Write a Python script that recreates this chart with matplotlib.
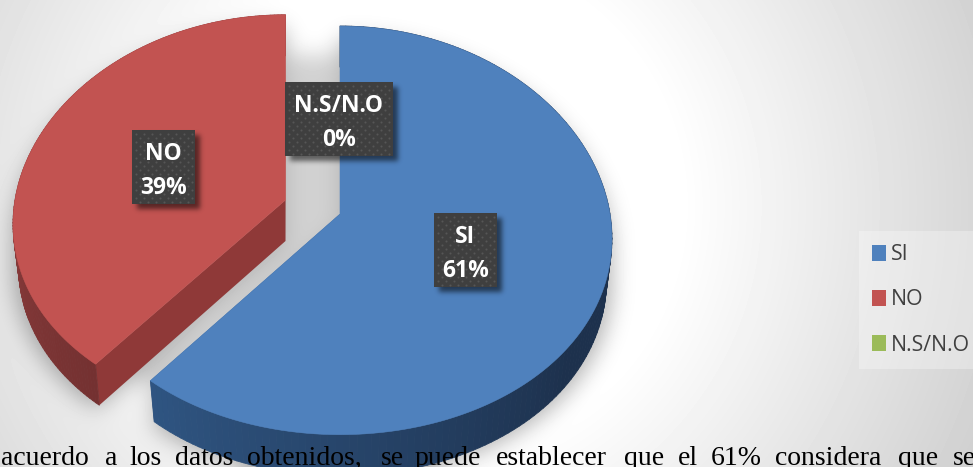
import numpy as np
import matplotlib
matplotlib.use("Agg")
import matplotlib.pyplot as plt
from matplotlib.collections import PolyCollection
from matplotlib.patches import Polygon, Rectangle
from matplotlib.path import Path

# ---- data ----
categories = ["SI", "NO", "N.S/N.O"]
values = [61, 39, 0]
colors = ["#4F81BD", "#C25351", "#9BBB59"]
words = ["acuerdo", "a", "los", "datos", "obtenidos,", "se", "puede",
         "establecer", "que", "el", "61%", "considera", "que", "se"]
word_x = [1, 105, 129, 175, 247, 381, 415, 496, 624, 678, 711, 775, 898, 953]

# ---- layout / style ----
W, H = 973, 467
apex = {"SI": (340, 214), "NO": (285.5, 200)}
scale = {"SI": (270, 203), "NO": (270.5, 200)}
KX, KY, DEPTH, SHRINK = 0.12, 0.08, 41, 0.98
side_cols = {"SI": ((47, 85, 130), (29, 49, 77)), "NO": ((116, 49, 49), (140, 60, 60))}
edge_col = {"SI": "#2A4A70", "NO": "#8F3938"}
boxes = {"SI": (434, 213, 63, 74), "NO": (132, 130, 63, 74), "N.S/N.O": (285, 82, 108, 74)}


def project(theta, r, name):
    ap = apex[name]
    A, B = scale[name]
    x, y = r * np.sin(theta), r * np.cos(theta)
    return np.column_stack([ap[0] + A * x / (1 + KX * y),
                            ap[1] - B * y / (1 + KY * y)])


def extrude(p, name):
    p = np.atleast_2d(p).astype(float)
    return np.column_stack([apex[name][0] + (p[:, 0] - apex[name][0]) * SHRINK, p[:, 1] + DEPTH])


def blur(a, sigma):
    rad = int(3 * sigma)
    k = np.exp(-0.5 * (np.arange(-rad, rad + 1) / sigma) ** 2)
    k /= k.sum()
    a = np.apply_along_axis(lambda v: np.convolve(np.pad(v, rad, mode="edge"), k, "valid"), 0, a)
    a = np.apply_along_axis(lambda v: np.convolve(np.pad(v, rad, mode="edge"), k, "valid"), 1, a)
    return a


fracs = np.array(values, float) / sum(values)
edges = np.concatenate([[0], np.cumsum(fracs)]) * 2 * np.pi

fig = plt.figure(figsize=(W / 100, H / 100), dpi=100)
ax = fig.add_axes([0, 0, 1, 1])

tops, arcs = {}, {}
for i, name in enumerate(categories):
    if values[i] == 0:
        continue
    th = np.linspace(edges[i], edges[i + 1], 160)
    arc = project(th, 1.0, name)
    tops[name] = np.vstack([[apex[name]], arc])
    arcs[name] = (th, arc)

# background: radial vignette + soft shadow of the pie
yy, xx = np.mgrid[0:H, 0:W]
dist = np.hypot(xx - 430, yy - 205)
bg = 255 - np.clip(dist - 250, 0, None) * 0.135
pts = np.column_stack([xx.ravel() + 0.5, yy.ravel() + 0.5])
mask = np.zeros((H, W))
for name, poly in tops.items():
    for shift in (12, 28, 44):
        mask = np.maximum(mask, Path(poly + [0, shift]).contains_points(pts).reshape(H, W).astype(float))
gap = Path(np.array([[285, 55], [342, 55], [342, 225], [150, 385], [95, 365], [285, 230]]))
mask = np.maximum(mask, 0.6 * gap.contains_points(pts).reshape(H, W).astype(float))
shadow = blur(mask, 11)
bg = bg * (1 - 0.3 * shadow)
ax.imshow(bg, cmap="gray", vmin=0, vmax=255, extent=(0, W, H, 0), aspect="auto",
          interpolation="bilinear", zorder=0)

for i, name in enumerate(categories):
    if values[i] == 0:
        continue
    th, arc = arcs[name]
    ap = np.array(apex[name], float)
    for end in (arc[0], arc[-1]):
        low = extrude(np.vstack([end, ap]), name)
        ax.add_patch(Polygon(np.vstack([ap, end, low[0], low[1]]), closed=True,
                             fc=edge_col[name], ec="none", zorder=2))
    low = extrude(arc, name)
    quads, cols = [], []
    c0, c1 = np.array(side_cols[name][0]) / 255, np.array(side_cols[name][1]) / 255
    for j in range(len(arc) - 1):
        quads.append([arc[j], arc[j + 1], low[j + 1], low[j]])
        t = np.clip((edges[1] - th[j]) / 1.6, 0, 1) if name == "SI" else np.clip((th[j] - edges[1]) / 1.0, 0, 1)
        cols.append(c0 + (c1 - c0) * t)
    ax.add_collection(PolyCollection(quads, facecolors=cols, edgecolors=cols, linewidths=0.6, zorder=3))
    ax.add_patch(Polygon(tops[name], closed=True, fc=colors[i], ec=colors[i], lw=0.4, zorder=4))

# paragraph fragment under the chart
for w, x in zip(words, word_x):
    ax.text(x, 465, w, family="Liberation Serif", fontsize=20, color="black",
            ha="left", va="baseline", zorder=9)

# data-label shadows
smask = np.zeros((H, W))
for (x, y, bw, bh) in boxes.values():
    smask[y + 5:y + bh + 5, x + 5:x + bw + 5] = 1
smask = blur(smask, 2.5)
rgba = np.zeros((H, W, 4))
rgba[..., 3] = smask * 0.55
ax.imshow(rgba, extent=(0, W, H, 0), aspect="auto", zorder=5)

# data labels
for i, name in enumerate(categories):
    x, y, bw, bh = boxes[name]
    ax.add_patch(Rectangle((x, y), bw, bh, fc="#3F3F3F", ec="none", zorder=6))
    gx, gy = np.meshgrid(np.arange(x + 4, x + bw - 1, 8.0), np.arange(y + 4, y + bh - 1, 4.0))
    gx = gx + (np.arange(gx.shape[0])[:, None] % 2) * 4
    keep = gx < x + bw - 1
    ax.scatter(gx[keep], gy[keep], s=2.2, c="#565656", linewidths=0, zorder=7)
    ax.text(x + bw / 2, y + bh / 2 + 4, f"{name}\n{values[i]}%", family="Open Sans", weight="bold",
            fontsize=16.5, color="white", ha="center", va="center", linespacing=1.54, zorder=8)

ax.set_xlim(0, W)
ax.set_ylim(H, 0)
ax.axis("off")

# legend
handles = [Rectangle((0, 0), 1, 1, fc=c, ec="none") for c in colors]
leg = ax.legend(handles, categories, loc="upper left", bbox_to_anchor=(859, 231),
                bbox_transform=ax.transData, borderaxespad=0, frameon=True, fancybox=False,
                prop={"family": "Open Sans", "size": 15.3}, labelcolor="#404040",
                handlelength=0.66, handleheight=0.78, handletextpad=0.24, labelspacing=1.14,
                borderpad=0.62)
leg.get_frame().set(facecolor="white", alpha=0.3, edgecolor="none")
leg.set_zorder(10)

fig.savefig("out.png", dpi=100)
